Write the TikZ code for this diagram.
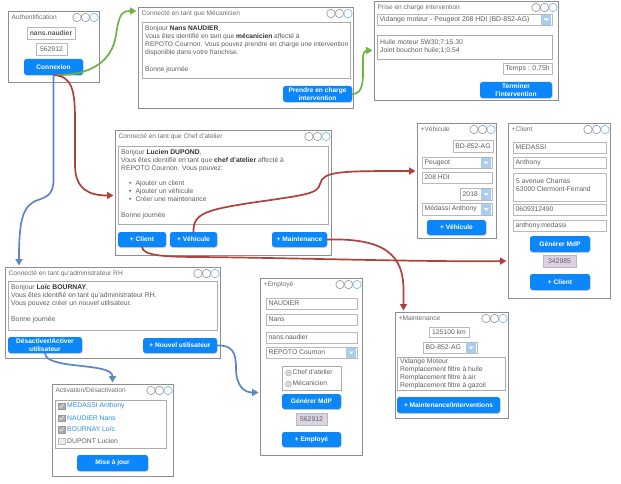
\documentclass[tikz,border=0pt]{standalone}
\usepackage{fontspec}
\setmainfont{Liberation Sans}
\usetikzlibrary{arrows.meta,shadows}

\definecolor{winline}{HTML}{8E8E8E}
\definecolor{titlegray}{HTML}{6E6E6E}
\definecolor{txt}{HTML}{5E5E5E}
\definecolor{darktxt}{HTML}{333333}
\definecolor{btnblue}{HTML}{0B86FB}
\definecolor{ddblue}{HTML}{A7CDF1}
\definecolor{ringblue}{HTML}{82BDF0}
\definecolor{lav}{HTML}{DDD1E6}
\definecolor{linkblue}{HTML}{2A8DEB}
\definecolor{cgreen}{HTML}{6CB443}
\definecolor{cred}{HTML}{B0403C}
\definecolor{cblue}{HTML}{5C86C6}

% a box given by its two corners (x1,y1) (x2,y2)
\newcommand\mkbox[7]{\node[#1,anchor=north west,minimum width={(#5-#3)*1pt},minimum height={(#6-#4)*1pt}] (#2) at (#3,#4) {#7};}
% input field with left aligned text
\newcommand\mkfield[7]{\mkbox{#1}{#2}{#3}{#4}{#5}{#6}{}%
  \node[fieldtxt,anchor=west] (#2-txt) at ([xshift=2.5pt]#2.west) {#7};}
% drop-down list
\newcommand\mkdrop[7]{\mkfield{#1}{#2}{#3}{#4}{#5}{#6}{#7}%
  \node[dropbtn,anchor=north east,minimum height={(#6-#4-1.2)*1pt}] (#2-btn) at ([xshift=-0.6pt,yshift=-0.6pt]#2.north east) {};%
  \fill[white] ([xshift=-2.4pt,yshift=1.2pt]#2-btn.center) -- ++(4.8pt,0pt) -- ++(-2.4pt,-2.8pt) -- cycle;}
% window with title and the three round buttons
\newcommand\mkwin[6]{\mkbox{window}{#1}{#2}{#3}{#4}{#5}{}%
  \node[wtitle,anchor=west] (#1-title) at (#2+3.5,#3+6.5) {#6};%
  \node[ring] (#1-r1) at (#4-22,#3+6.5) {};%
  \node[ring] (#1-r2) at (#4-13.5,#3+6.5) {};%
  \node[ring,draw=ringblue] (#1-r3) at (#4-5,#3+6.5) {};}
\newcommand\bname[1]{{\bfseries\color{darktxt}#1}}

\tikzset{
  window/.style={draw=winline,line width=0.8pt,fill=white,inner sep=0pt,outer sep=0pt,
    drop shadow={shadow xshift=1pt,shadow yshift=-1pt,opacity=0.3}},
  wtitle/.style={font=\fontsize{6.6}{8}\selectfont,text=titlegray,inner sep=0pt},
  ring/.style={circle,draw=gray!75,line width=0.7pt,minimum size=8.4pt,inner sep=0pt},
  panel/.style={draw=gray!65,line width=0.9pt,fill=white,inner sep=0pt,outer sep=0pt},
  field/.style={draw=gray!55,line width=0.6pt,fill=white,inner sep=0pt,outer sep=0pt,
    font=\fontsize{6.8}{8}\selectfont,text=txt,
    drop shadow={shadow xshift=0.6pt,shadow yshift=-0.7pt,opacity=0.3}},
  fieldtxt/.style={font=\fontsize{6.8}{8}\selectfont,text=txt,inner sep=0pt},
  lavfield/.style={field,fill=lav},
  dropbtn/.style={fill=ddblue,minimum width=10pt,inner sep=0pt},
  body/.style={font=\fontsize{6.8}{8}\selectfont,text=txt,inner sep=0pt,align=left},
  button/.style={fill=btnblue,rounded corners=2.5pt,inner sep=0pt,outer sep=0pt,text=white,
    align=center,font=\bfseries\fontsize{6.6}{8}\selectfont,
    drop shadow={shadow xshift=0.5pt,shadow yshift=-0.8pt,opacity=0.35}},
  radio/.style={circle,draw=gray!70,fill=gray!30,minimum size=6pt,inner sep=0pt},
  chk/.style={draw=gray!80,fill=gray!65,minimum size=6.5pt,inner sep=0pt},
  unchk/.style={draw=gray!50,fill=gray!15,minimum size=6.5pt,inner sep=0pt},
  conn/.style={line width=1.7pt,-{Triangle[length=6.5pt,width=7pt]},shorten >=1.5pt},
}

\begin{document}
\begin{tikzpicture}[x=1pt,y=-1pt]
\fill[white] (0,0) rectangle (621,484);
\useasboundingbox (0,0) rectangle (621,484);

% ---------- login ----------
\mkwin{auth}{8}{11}{99}{82}{Authentification}
\mkbox{field}{login}{27}{27}{75}{39}{\textbf{nans.naudier}}
\mkbox{field}{pwd}{36}{43}{67}{55}{562912}
\mkbox{button}{connexion}{24}{59}{83}{75}{Connexion}

% ---------- mechanic ----------
\mkwin{meca}{138}{7}{353}{108}{Connecté en tant que Mécanicien}
\mkbox{panel}{mecamsg}{142}{22}{350}{78}{}
\node[body,anchor=north west,font=\fontsize{6.65}{8.3}\selectfont] (mecatext) at (145,25) {Bonjour \bname{Nans NAUDIER},\\
Vous êtes identifié en tant que \bname{mécanicien} affecté à\\
REPOTO Cournon. Vous pouvez prendre en charge une intervention\\
disponible dans votre franchise.\\[8.3pt]
Bonne journée};
\mkbox{button}{prendre}{283}{86}{352}{102}{Prendre en charge\\intervention}

% ---------- intervention ----------
\mkwin{prise}{374}{1}{558}{100}{Prise en charge intervention}
\mkdrop{field}{vidange}{377}{14}{552}{25}{\fontsize{6.9}{8}\selectfont Vidange moteur - Peugeot 208 HDI (BD-852-AG)}
\mkbox{panel}{pieces}{377}{35}{552}{59}{}
\node[body,anchor=north west] (piecestext) at (380,39) {Huile moteur 5W30;7;15.30\\Joint bouchon huile;1;0.54};
\mkfield{field}{temps}{503}{63}{552}{74}{\fontsize{6.9}{8}\selectfont Temps : 0,75h}
\mkbox{button}{terminer}{480}{82}{552}{98}{Terminer\\l'intervention}

% ---------- workshop manager ----------
\mkwin{chef}{115}{130}{331}{255}{Connecté en tant que Chef d'atelier}
\mkbox{panel}{chefmsg}{118}{146}{328}{224}{}
\node[body,anchor=north west,font=\fontsize{6.8}{7.8}\selectfont] (cheftext) at (121,149.5) {Bonjour \bname{Lucien DUPOND},\\
Vous êtes identifié en tant que \bname{chef d'atelier} affecté à\\
REPOTO Cournon. Vous pouvez:\\[7.8pt]
\hspace*{8pt}\textbullet\hspace{4pt}Ajouter un client\\
\hspace*{8pt}\textbullet\hspace{4pt}Ajouter un véhicule\\
\hspace*{8pt}\textbullet\hspace{4pt}Créer une maintenance\\[7.8pt]
Bonne journée};
\mkbox{button}{bclient}{118}{232}{166}{247}{+ Client}
\mkbox{button}{bvehic}{170}{232}{217}{247}{+ Véhicule}
\mkbox{button}{bmaint}{272}{232}{327}{247}{+ Maintenance}

% ---------- new vehicle ----------
\mkwin{vehic}{417}{123}{496}{238}{+Véhicule}
\mkbox{field}{immat}{453}{140}{493}{152}{BD-852-AG}
\mkdrop{field}{marque}{422}{157}{492}{168}{Peugeot}
\mkfield{field}{modele}{422}{172}{492}{183}{208 HDI}
\mkdrop{field}{annee}{460}{188}{492}{200}{2018}
\mkdrop{field}{proprio}{422}{203}{492}{215}{Médassi Anthony}
\mkbox{button}{addvehic}{427}{220}{486}{235}{+ Véhicule}

% ---------- new customer ----------
\mkwin{client}{508}{123}{610}{298}{+Client}
\mkfield{field}{nom}{513}{142}{606}{153}{MEDASSI}
\mkfield{field}{prenom}{513}{157}{606}{168}{Anthony}
\mkbox{field}{adresse}{513}{173}{606}{201}{}
\node[fieldtxt,align=left,anchor=north west] (adressetext) at (516,178.5) {5 avenue Charras\\63000 Clermont-Ferrand};
\mkfield{field}{tel}{513}{204}{606}{215}{0609312490}
\mkfield{field}{login2}{513}{220}{606}{231}{anthony.medassi}
\mkbox{button}{genmdp}{530}{236}{590}{252}{Générer MdP}
\mkbox{lavfield}{mdp}{543}{255}{576}{267}{342985}
\mkbox{button}{addclient}{530}{274}{590}{290}{+ Client}

% ---------- HR administrator ----------
\mkwin{rh}{5}{267}{220}{358}{Connecté en tant qu'administrateur RH}
\mkbox{panel}{rhmsg}{8}{281}{217}{330}{}
\node[body,anchor=north west] (rhtext) at (11,284.5) {Bonjour \bname{Loïc BOURNAY},\\
Vous êtes identifié en tant qu'administrateur RH.\\
Vous pouvez créer un nouvel utilisateur.\\[8pt]
Bonne journée};
\mkbox{button}{bactiv}{8}{337}{82}{353}{Désactiver/Activer\\utilisateur}
\mkbox{button}{bnewuser}{143}{338}{217}{353}{+ Nouvel utilisateur}

% ---------- new employee ----------
\mkwin{employe}{260}{278}{362}{455}{+Employé}
\mkfield{field}{enom}{266}{298}{357}{309}{NAUDIER}
\mkfield{field}{eprenom}{266}{314}{357}{325}{Nans}
\mkfield{field}{elogin}{266}{332}{357}{343}{nans.naudier}
\mkdrop{field}{franchise}{266}{347}{357}{358}{REPOTO Cournon}
\mkbox{panel}{roles}{282}{366}{341}{390}{}
\node[radio] (rchef) at (288.5,373) {};
\node[fieldtxt,anchor=west] (rcheftext) at (292.5,372.5) {Chef d'atelier};
\node[radio] (rmeca) at (288.5,384) {};
\node[fieldtxt,anchor=west] (rmecatext) at (292.5,383.5) {Mécanicien};
\mkbox{button}{egenmdp}{282}{394}{341}{409}{Générer MdP}
\mkbox{lavfield}{emdp}{296}{413}{327}{425}{562912}
\mkbox{button}{addemp}{282}{432}{341}{447}{+ Employé}

% ---------- new maintenance ----------
\mkwin{maint}{395}{312}{508}{418}{+Maintenance}
\mkbox{field}{km}{429}{327}{469}{337}{125100 km}
\mkdrop{field}{mimmat}{423}{342}{477}{353}{BD-852-AG}
\mkbox{panel}{travaux}{397}{357}{505}{390}{}
\node[body,anchor=north west] (travauxtext) at (400,358.5) {Vidange Moteur\\Remplacement filtre à huile\\Remplacement filtre à air\\Remplacement filtre à gazoil};
\mkbox{button}{addmaint}{397}{397}{500}{413}{+ Maintenance/Interventions}

% ---------- account activation ----------
\mkwin{activ}{52}{384}{173}{476}{Activation/Désactivation}
\mkbox{panel}{liste}{55}{400}{166}{448}{}
\foreach \yy/\nn/\who in {406/u1/MEDASSI Anthony,418/u2/NAUDIER Nans,429.5/u3/BOURNAY Loïc}{
  \node[chk] (\nn) at (61.5,\yy) {};
  \draw[white!80!gray,line width=0.7pt] ([xshift=-2pt]\nn.center) -- ([xshift=-0.6pt,yshift=-1.7pt]\nn.center) -- ([xshift=2.2pt,yshift=2pt]\nn.center);
  \node[fieldtxt,text=linkblue,anchor=west] (\nn-name) at (67,\yy) {\who};
}
\node[unchk] (u4) at (61.5,441) {};
\node[fieldtxt,anchor=west] (u4-name) at (67,441) {DUPONT Lucien};
\mkbox{button}{maj}{77}{455}{148}{471}{Mise à jour}

% ---------- navigation ----------
\coordinate (mecain) at ([yshift=-4pt]meca.north west);
\coordinate (chefin) at ([yshift=-3pt]chef.west);
\coordinate (rhin) at ([xshift=14pt]rh.north west);
\coordinate (vehicin) at ([yshift=9.5pt]vehic.west);
\coordinate (clientin) at (client.west |- mdp.center);
\coordinate (maintin) at ([xshift=-48pt]maint.north);
\coordinate (empin) at ([yshift=-26pt]employe.west);

\draw[conn,cgreen] (connexion.south) .. controls (90,76) and (112,62) .. (116,35)
  .. controls (119,14) and (122,11) .. (mecain);
\draw[conn,cgreen] (prendre.east) .. controls (361,94) and (363,86) .. (363,72)
  -- (363,60) .. controls (363,52) and (365,50.5) .. (prise.west);
\draw[conn,cred] (connexion.south) .. controls (72,76) and (75,90) .. (75,120)
  -- (75,165) .. controls (75,190) and (90,195.5) .. (chefin);
\draw[conn,cblue] (connexion.south) -- (53.5,180) .. controls (53.5,195) and (46,197) .. (38,200)
  .. controls (22,205) and (19,222) .. (rhin);
\draw[conn,cred] (bvehic.north) .. controls (193,214) and (205,210) .. (250,203)
  .. controls (305,195) and (318,194) .. (320,184) .. controls (323,171) and (340,171) .. (vehicin);
\draw[conn,cred] (bclient.south) .. controls (143,255) and (160,257) .. (200,257)
  .. controls (300,258) and (420,262) .. (clientin);
\draw[conn,cred] (bmaint.east) .. controls (385,238) and (403.5,255) .. (403.5,290) -- (maintin);
\draw[conn,cblue] (bactiv.south) .. controls (45,370) and (112.5,362) .. (activ.north);
\draw[conn,cblue] (bnewuser.east) .. controls (232,345) and (236,352) .. (236,368)
  .. controls (236,387) and (245,392.5) .. (empin);
\end{tikzpicture}
\end{document}
